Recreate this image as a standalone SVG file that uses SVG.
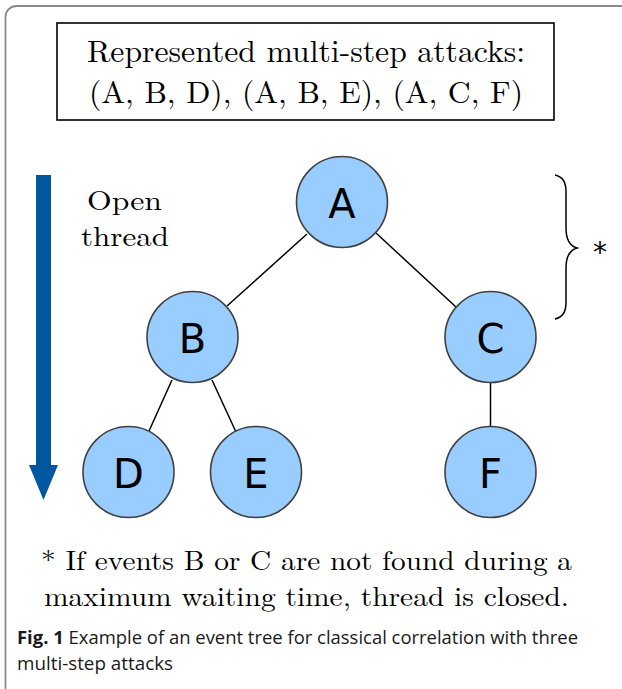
<svg xmlns="http://www.w3.org/2000/svg" width="622" height="689" viewBox="0 0 622 689">
<defs>
<style>
.serif{font-family:"Latin Modern Roman","Liberation Serif","DejaVu Serif",serif;fill:#000}
.node circle{fill:#99CCFF;stroke:#404040;stroke-width:1.6}
.node text{font-family:"DejaVu Sans","Open Sans",sans-serif;font-size:40px;text-anchor:middle;fill:#000}
.edge{stroke:#000;stroke-width:1.5;fill:none}
.cap{font-family:"Open Sans","Liberation Sans",sans-serif;font-size:18px;fill:#1a1a1a}
</style>
</defs>
<rect width="622" height="689" fill="#fff"/>
<path d="M5.5,700 V17 A11,11 0 0 1 16.5,6 H640" fill="none" stroke="#8a8a8a" stroke-width="1.8"/>
<g id="header">
<rect x="57" y="23" width="497" height="97" fill="#fff" stroke="#000" stroke-width="1.6"/>
<text class="serif" x="87" y="62" font-size="31" textLength="438" lengthAdjust="spacingAndGlyphs">Represented multi-step attacks:</text>
<text class="serif" x="89" y="103" font-size="31" textLength="434" lengthAdjust="spacingAndGlyphs">(A, B, D), (A, B, E), (A, C, F)</text>
</g>
<g id="open-thread">
<rect x="36" y="175" width="15" height="291" fill="#0057A0"/>
<polygon points="29,465 58,465 43.5,500" fill="#0057A0"/>
<text class="serif" x="87" y="210" font-size="28" textLength="75" lengthAdjust="spacingAndGlyphs">Open</text>
<text class="serif" x="81" y="246" font-size="28" textLength="88" lengthAdjust="spacingAndGlyphs">thread</text>
</g>
<g id="connectors">
<line class="edge" x1="307" y1="234" x2="227" y2="306"/>
<line class="edge" x1="376" y1="233" x2="456" y2="307"/>
<line class="edge" x1="172" y1="380" x2="149" y2="431"/>
<line class="edge" x1="212" y1="380" x2="236" y2="432"/>
<line class="edge" x1="490.5" y1="383" x2="490.5" y2="427"/>
</g>
<g id="node-A" class="node"><circle cx="342" cy="202" r="45.5"/><text x="342" y="218">A</text></g>
<g id="node-B" class="node"><circle cx="192.5" cy="337" r="45.5"/><text x="192.5" y="353">B</text></g>
<g id="node-C" class="node"><circle cx="490.5" cy="337" r="45.5"/><text x="490.5" y="353">C</text></g>
<g id="node-D" class="node"><circle cx="128.5" cy="472" r="45.5"/><text x="128.5" y="488">D</text></g>
<g id="node-E" class="node"><circle cx="256" cy="472" r="45.5"/><text x="256" y="488">E</text></g>
<g id="node-F" class="node"><circle cx="490.5" cy="472" r="45.5"/><text x="490.5" y="488">F</text></g>
<g id="brace">
<path d="M555,175 C563,177 566,182 566,192 V228 C566,240 570,246 577,248 C570,250 566,256 566,268 V302 C566,312 563,317 555,319" fill="none" stroke="#000" stroke-width="1.5"/>
<text x="600" y="262" font-family="DejaVu Sans,sans-serif" font-size="28" fill="#000" text-anchor="middle">*</text>
</g>
<g id="footnote">
<text class="serif" x="41" y="570" font-size="27" textLength="531" lengthAdjust="spacingAndGlyphs">* If events B or C are not found during a</text>
<text class="serif" x="44" y="606" font-size="27" textLength="525" lengthAdjust="spacingAndGlyphs">maximum waiting time, thread is closed.</text>
</g>
<g id="caption">
<text class="cap" x="17" y="644" textLength="561" lengthAdjust="spacingAndGlyphs"><tspan font-weight="bold">Fig. 1</tspan> Example of an event tree for classical correlation with three</text>
<text class="cap" x="17" y="670" textLength="156" lengthAdjust="spacingAndGlyphs">multi-step attacks</text>
</g>
</svg>
